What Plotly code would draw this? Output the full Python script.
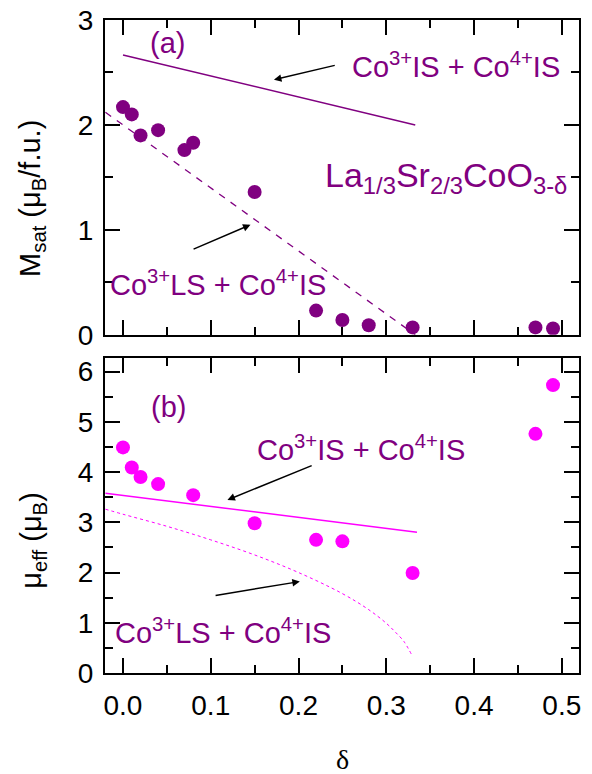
import plotly.graph_objects as go

# ---- data ----
delta_a = [0.0, 0.01, 0.02, 0.04, 0.07, 0.08, 0.15, 0.22, 0.25, 0.28, 0.33, 0.47, 0.49]
msat = [2.17, 2.10, 1.90, 1.95, 1.76, 1.83, 1.36, 0.23, 0.14, 0.09, 0.07, 0.07, 0.06]

is_line_x = [0.0, 0.333]
is_line_y = [2.667, 2.0]
ls_line_x = [-0.02, 0.333]
ls_line_y = [2.12, 0.0]

delta_b = [0.0, 0.01, 0.02, 0.04, 0.08, 0.15, 0.22, 0.25, 0.33, 0.47, 0.49]
mueff = [4.49, 4.09, 3.90, 3.76, 3.54, 2.98, 2.65, 2.62, 1.99, 4.76, 5.73]

is_mu_x = [-0.02, 0.15, 0.335]
is_mu_y = [3.58, 3.21, 2.80]
ls_mu_x = [-0.02, 0.0, 0.05, 0.10, 0.15, 0.20, 0.25, 0.28, 0.30, 0.31, 0.32, 0.329]
ls_mu_y = [3.26, 3.16, 2.92, 2.65, 2.35, 2.00, 1.58, 1.26, 0.99, 0.82, 0.63, 0.36]

x_ticks = [0.0, 0.1, 0.2, 0.3, 0.4, 0.5]
x_tick_text = ["0.0", "0.1", "0.2", "0.3", "0.4", "0.5"]
ya_ticks = [0, 1, 2, 3]
yb_ticks = [0, 1, 2, 3, 4, 5, 6]

PURPLE = "#800080"
MAGENTA = "#FF00FF"
FONT = "Liberation Sans, Arial, sans-serif"

fig = go.Figure()

# panel (a)
fig.add_trace(go.Scatter(x=is_line_x, y=is_line_y, mode="lines",
                         line=dict(color=PURPLE, width=1.5), xaxis="x2", yaxis="y2",
                         showlegend=False))
fig.add_trace(go.Scatter(x=ls_line_x, y=ls_line_y, mode="lines",
                         line=dict(color=PURPLE, width=1.3, dash="7px,7px"),
                         xaxis="x2", yaxis="y2", showlegend=False))
fig.add_trace(go.Scatter(x=delta_a, y=msat, mode="markers",
                         marker=dict(color=PURPLE, size=14), xaxis="x2", yaxis="y2",
                         showlegend=False))

# panel (b)
fig.add_trace(go.Scatter(x=is_mu_x, y=is_mu_y, mode="lines",
                         line=dict(color=MAGENTA, width=1.5), showlegend=False))
fig.add_trace(go.Scatter(x=ls_mu_x, y=ls_mu_y, mode="lines", line_shape="spline",
                         line=dict(color=MAGENTA, width=1, dash="3px,3px"),
                         showlegend=False))
fig.add_trace(go.Scatter(x=delta_b, y=mueff, mode="markers",
                         marker=dict(color=MAGENTA, size=14), showlegend=False))

XR = [-0.0205, 0.5196]
axis_common = dict(showline=True, linecolor="black", linewidth=2, mirror="allticks",
                   ticks="inside", ticklen=15, tickwidth=2, tickcolor="black",
                   showgrid=False, zeroline=False, automargin=False,
                   ticklabeloverflow="allow",
                   tickfont=dict(family=FONT, size=28, color="black"))
minor_x = dict(dtick=0.05, tick0=0, ticklen=8, tickwidth=2, tickcolor="black", ticks="inside")
minor_y = dict(dtick=0.5, tick0=0, ticklen=8, tickwidth=2, tickcolor="black", ticks="inside")

fig.update_layout(
    width=592, height=774,
    margin=dict(l=105, r=13, t=20, b=101),
    plot_bgcolor="white", paper_bgcolor="white",
    xaxis=dict(domain=[0, 1], range=XR, anchor="y", tickvals=x_ticks, ticktext=x_tick_text,
               minor=minor_x, ticklabelstandoff=6, **axis_common),
    yaxis=dict(domain=[0, 0.4824], range=[0, 6.27], anchor="x", tickvals=yb_ticks,
               minor=minor_y, ticklabelstandoff=4, **axis_common),
    xaxis2=dict(domain=[0, 1], range=XR, anchor="y2", tickvals=x_ticks, showticklabels=False,
                minor=minor_x, **axis_common),
    yaxis2=dict(domain=[0.518, 1], range=[0, 3], anchor="x2", tickvals=ya_ticks,
                minor=minor_y, ticklabelstandoff=4, **axis_common),
)

ann = []
tf = dict(family=FONT, size=29, color=PURPLE)
# panel (a) texts
ann.append(dict(x=0.051, y=2.78, xref="x2", yref="y2", text="(a)", showarrow=False,
                font=tf, xanchor="center", yanchor="middle"))
ann.append(dict(x=0.2585, y=2.571, xref="x2", yref="y2",
                text="Co<sup>3+</sup>IS + Co<sup>4+</sup>IS", showarrow=False,
                font=tf, xanchor="left", yanchor="middle"))
ann.append(dict(x=0.228, y=1.50, xref="x2", yref="y2",
                text="La<sub>1/3</sub>Sr<sub>2/3</sub>CoO<sub>3-δ</sub>", showarrow=False,
                font=dict(family=FONT, size=34, color=PURPLE), xanchor="left",
                yanchor="middle"))
ann.append(dict(x=-0.0171, y=0.492, xref="x2", yref="y2",
                text="Co<sup>3+</sup>LS + Co<sup>4+</sup>IS", showarrow=False,
                font=tf, xanchor="left", yanchor="middle"))
# panel (a) arrows
ann.append(dict(x=0.172, y=2.43, ax=0.243, ay=2.571, xref="x2", yref="y2",
                axref="x2", ayref="y2", text="", showarrow=True, arrowhead=2,
                arrowsize=1, arrowwidth=1.5, arrowcolor="black"))
ann.append(dict(x=0.1453, y=1.048, ax=0.0787, ay=0.81, xref="x2", yref="y2",
                axref="x2", ayref="y2", text="", showarrow=True, arrowhead=2,
                arrowsize=1, arrowwidth=1.5, arrowcolor="black"))
# panel (b) texts
ann.append(dict(x=0.052, y=5.30, xref="x", yref="y", text="(b)", showarrow=False,
                font=tf, xanchor="center", yanchor="middle"))
ann.append(dict(x=0.150, y=4.47, xref="x", yref="y",
                text="Co<sup>3+</sup>IS + Co<sup>4+</sup>IS", showarrow=False,
                font=tf, xanchor="left", yanchor="middle"))
ann.append(dict(x=-0.0114, y=0.83, xref="x", yref="y",
                text="Co<sup>3+</sup>LS + Co<sup>4+</sup>IS", showarrow=False,
                font=tf, xanchor="left", yanchor="middle"))
# panel (b) arrows
ann.append(dict(x=0.119, y=3.445, ax=0.2167, ay=4.14, xref="x", yref="y",
                axref="x", ayref="y", text="", showarrow=True, arrowhead=2,
                arrowsize=1, arrowwidth=1.5, arrowcolor="black"))
ann.append(dict(x=0.2015, y=1.82, ax=0.1038, ay=1.54, xref="x", yref="y",
                axref="x", ayref="y", text="", showarrow=True, arrowhead=2,
                arrowsize=1, arrowwidth=1.5, arrowcolor="black"))
# axis titles
ann.append(dict(x=-0.154, y=0.726, xref="paper", yref="paper",
                text="M<sub>sat</sub> (μ<sub>B</sub>/f.u.)", showarrow=False, textangle=-90,
                font=dict(family=FONT, size=29, color="black"),
                xanchor="center", yanchor="middle"))
ann.append(dict(x=-0.152, y=0.204, xref="paper", yref="paper",
                text="μ<sub>eff</sub> (μ<sub>B</sub>)", showarrow=False, textangle=-90,
                font=dict(family=FONT, size=29, color="black"),
                xanchor="center", yanchor="middle"))
ann.append(dict(x=0.502, y=-0.133, xref="paper", yref="paper", text="δ",
                showarrow=False, font=dict(family="Liberation Serif, serif", size=28,
                                           color="black"),
                xanchor="center", yanchor="middle"))
fig.update_layout(annotations=ann)

# remove the default page margin so the 592x774 figure fills the window exactly
fig.write_html("out.html", config={"displayModeBar": False},
               post_script="document.body.style.margin='0';document.body.style.overflow='hidden';")
